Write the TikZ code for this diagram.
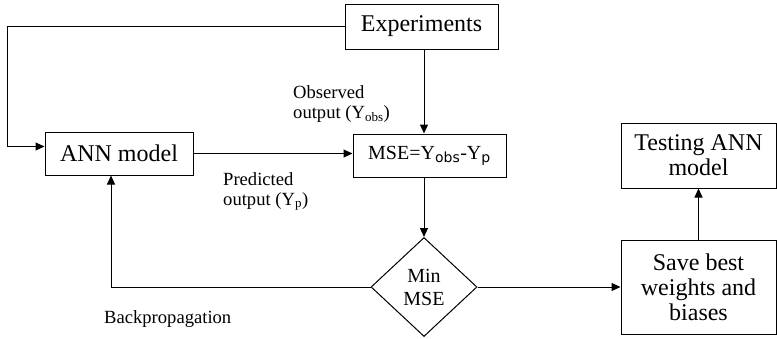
\documentclass[tikz,border=0pt]{standalone}
\usepackage{fontspec}
\setmainfont{Liberation Serif}
\newfontfamily\subf{DejaVu Sans}
\usetikzlibrary{shapes.geometric,arrows.meta,calc}
\begin{document}
\begin{tikzpicture}[x=1pt,y=-1pt,
  box/.style={draw,line width=1pt,inner sep=0pt,align=center,
    font=\fontsize{24}{25}\selectfont},
  lbl/.style={inner sep=0pt,align=left,font=\fontsize{18.6}{20}\selectfont},
  conn/.style={line width=1pt},
  arr/.style={conn,-{Triangle[length=9pt,width=8pt]}}]
\useasboundingbox (0,0) rectangle (777,338);
\node[box,minimum width=153pt,minimum height=45pt] (exp) at (421.5,26.5) {Experiments};
\node[box,minimum width=148pt,minimum height=43pt] (ann) at (119,153.5) {ANN model};
\node[box,minimum width=153pt,minimum height=43pt,font=\fontsize{20}{23}\selectfont] (mse) at (429.5,155.5)
  {MSE=Y\textsubscript{\subf obs}-Y\textsubscript{\subf p}};
\node[box,minimum width=155pt,minimum height=65pt] (test) at (698.5,155.5) {Testing ANN\\model};
\node[box,minimum width=155pt,minimum height=94pt] (save) at (698.5,287) {Save best\\weights and\\biases};
\node[draw,line width=1pt,diamond,inner sep=0pt,minimum width=106pt,minimum height=99pt,
  align=center,font=\fontsize{20}{23}\selectfont] (dia) at (424,287) {Min\\MSE};
\node[lbl,anchor=north west] (obs) at (293,85) {Observed\\output (Y\textsubscript{obs})};
\node[lbl,anchor=north west] (pred) at (223,172) {Predicted\\output (Y\textsubscript{p})};
\node[lbl,anchor=base west] (bp) at (104,323) {Backpropagation};
\coordinate (lc) at (7,30);
\draw[arr] (exp.west) -- (exp.west -| lc) |- ([yshift=7pt]ann.west);
\draw[arr] (ann.east) -- (mse.west |- ann.east);
\draw[arr] (exp.south -| dia.north) -- (dia.north |- mse.north);
\draw[arr] (dia.north |- mse.south) -- (dia.north);
\draw[arr] (dia.east) -- (save.west);
\draw[arr] (save.north) -- (test.south);
\draw[arr] (dia.west) -| ([xshift=-8pt]ann.south);
\end{tikzpicture}
\end{document}
